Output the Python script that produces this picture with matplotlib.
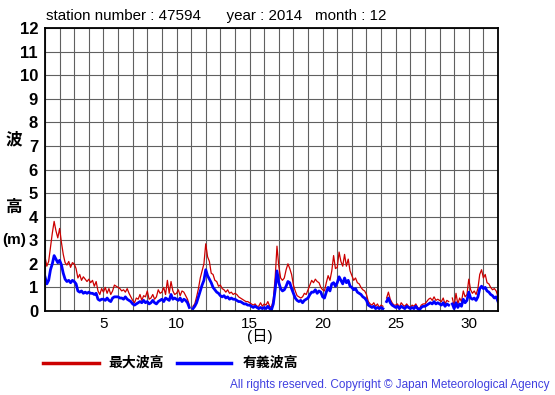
import numpy as np
import matplotlib
matplotlib.use('Agg')
import matplotlib.pyplot as plt

plt.rcParams['font.family'] = ['Liberation Sans', 'Noto Sans CJK JP', 'DejaVu Sans']

nan = np.nan
# 3-hourly values, day 1.0 .. 32.0
max_wave = [
    2.3, 1.9, 2.1, 2.7, 3.3, 3.8, 3.4, 3.1,
    3.5, 2.9, 2.4, 2.05, 1.95, 2.1, 1.85, 2.05,
    2.0, 1.8, 1.4, 1.55, 1.3, 1.45, 1.35, 1.25,
    1.35, 1.2, 1.3, 1.05, 1.25, 0.85, 0.7, 0.95,
    0.8, 1.0, 0.75, 0.95, 0.7, 0.85, 1.1, 1.05,
    1.0, 0.95, 0.85, 0.9, 0.8, 0.95, 0.75, 0.6,
    0.45, 0.35, 0.55, 0.5, 0.7, 0.45, 0.65, 0.6,
    0.85, 0.5, 0.55, 0.7, 0.5, 0.6, 0.9, 0.75,
    0.8, 1.0, 0.7, 1.3, 0.75, 1.25, 0.85, 0.7,
    0.75, 0.9, 0.65, 0.85, 0.8, 0.65, 0.5, 0.25,
    nan, 0.2, 0.3, 0.6, 0.95, 1.4, 1.7, 2.0,
    2.85, 2.3, 2.1, 1.6, 1.55, 1.3, 1.25, 1.05,
    1.1, 0.95, 0.9, 0.8, 0.9, 0.75, 0.8, 0.7,
    0.75, 0.7, 0.6, 0.55, 0.5, 0.45, 0.4, 0.4,
    0.35, 0.3, 0.25, 0.3, 0.2, 0.2, 0.35, 0.2,
    0.3, 0.25, 0.4, 0.2, 0.15, 0.5, 1.4, 2.75,
    1.9, 1.4, 1.3, 1.4, 1.75, 2.0, 1.8, 1.55,
    1.1, 0.85, 0.65, 0.6, 0.55, 0.6, 0.75, 0.7,
    0.9, 1.1, 1.3, 1.2, 1.35, 1.25, 1.2, 1.0,
    0.9, 0.85, 1.2, 1.5, 1.3, 1.7, 2.35, 1.8,
    1.85, 2.5, 2.1, 1.9, 2.4, 1.9, 2.2, 1.7,
    1.5, 1.3, 1.4, 1.2, 1.15, 1.0, 0.9, 0.85,
    0.7, 0.4, 0.3, 0.25, 0.35, 0.2, 0.3, 0.15,
    0.25, 0.2, nan, 0.55, 0.8, 0.5, 0.35, 0.25,
    0.25, 0.3, 0.15, 0.35, 0.25, 0.2, 0.3, 0.2,
    0.15, 0.25, 0.2, 0.3, 0.15, 0.1, 0.25, 0.3,
    0.3, 0.4, 0.5, 0.55, 0.45, 0.6, 0.45, 0.5,
    0.45, 0.4, 0.55, 0.3, 0.45, 0.4, nan, 0.55,
    0.2, 0.75, 0.3, 0.55, 0.4, 0.85, 0.6, 0.7,
    1.35, 0.9, 0.75, 0.85, 0.7, 0.95, 1.55, 1.75,
    1.4, 1.55, 1.2, 1.15, 1.0, 0.9, 0.95, 0.85,
    0.6,
]
sig_wave = [
    1.45, 1.15, 1.3, 1.75, 2.0, 2.35, 2.2, 2.05,
    2.15, 1.95, 1.6, 1.35, 1.25, 1.3, 1.2, 1.3,
    1.25, 1.15, 0.85, 0.8, 0.85, 0.75, 0.8, 0.75,
    0.8, 0.75, 0.75, 0.7, 0.75, 0.5, 0.45, 0.5,
    0.5, 0.45, 0.55, 0.45, 0.4, 0.55, 0.6, 0.6,
    0.6, 0.55, 0.55, 0.5, 0.6, 0.5, 0.45, 0.4,
    0.3, 0.25, 0.3, 0.35, 0.4, 0.35, 0.45, 0.35,
    0.4, 0.3, 0.35, 0.45, 0.35, 0.3, 0.4, 0.45,
    0.5, 0.4, 0.55, 0.5, 0.45, 0.7, 0.5, 0.55,
    0.5, 0.45, 0.55, 0.4, 0.5, 0.45, 0.35, 0.15,
    nan, 0.1, 0.2, 0.35, 0.6, 0.85, 1.1, 1.3,
    1.75, 1.5, 1.35, 1.2, 1.0, 0.9, 0.8, 0.75,
    0.65, 0.6, 0.65, 0.55, 0.6, 0.5, 0.55, 0.5,
    0.5, 0.45, 0.4, 0.4, 0.35, 0.3, 0.3, 0.25,
    0.25, 0.2, 0.15, 0.2, 0.15, 0.1, 0.15, 0.1,
    0.15, 0.1, 0.2, 0.1, 0.05, 0.3, 0.9, 1.7,
    1.2, 0.95, 0.85, 0.9, 1.05, 1.25, 1.2, 0.95,
    0.75, 0.55, 0.45, 0.4, 0.45, 0.35, 0.45, 0.5,
    0.55, 0.7, 0.8, 0.8, 0.9, 0.75, 0.85, 0.8,
    0.6, 0.55, 0.8, 1.0, 0.85, 1.15, 1.2, 1.05,
    1.2, 1.45, 1.3, 1.15, 1.4, 1.2, 1.3, 1.05,
    1.0, 0.9, 0.95, 0.8, 0.75, 0.7, 0.6, 0.55,
    0.45, 0.25, 0.2, 0.15, 0.2, 0.1, 0.15, 0.1,
    0.15, 0.1, nan, 0.4, 0.55, 0.35, 0.25, 0.2,
    0.15, 0.2, 0.1, 0.2, 0.15, 0.1, 0.2, 0.15,
    0.1, 0.15, 0.1, 0.2, 0.1, 0.05, 0.15, 0.2,
    0.2, 0.25, 0.3, 0.35, 0.3, 0.4, 0.3, 0.35,
    0.3, 0.25, 0.35, 0.2, 0.3, 0.25, nan, 0.3,
    0.1, 0.35, 0.15, 0.3, 0.2, 0.5, 0.35, 0.45,
    0.8, 0.55, 0.5, 0.55, 0.45, 0.6, 0.95, 1.05,
    0.95, 1.0, 0.85, 0.8, 0.7, 0.65, 0.55, 0.6,
    0.4,
]
days = 1 + np.arange(len(max_wave)) / 8.0
xticks = [5, 10, 15, 20, 25, 30]

fig = plt.figure(figsize=(5.55, 3.95), dpi=100)
ax = fig.add_axes([45/555, 84/395, 453/555, 283/395])

ax.plot(days, max_wave, color='#cc0000', lw=0.9)
ax.plot(days, sig_wave, color='#0000ff', lw=2.0)

ax.set_xlim(1, 32)
ax.set_ylim(0, 12)
ax.set_xticks(range(1, 33), minor=True)
ax.set_xticks(xticks)
ax.set_yticks(range(0, 13))
ax.grid(True, which='both', color='#606060', lw=0.8)
ax.tick_params(length=0, which='both')
ax.tick_params(axis='y', labelsize=12, pad=5)
ax.tick_params(axis='x', labelsize=11, pad=4)
for lab in ax.get_yticklabels():
    lab.set_fontweight('bold')
for s in ax.spines.values():
    s.set_linewidth(1.3)

fig.text(46/555, 1 - 16/395, 'station number : 47594      year : 2014   month : 12',
         fontsize=10.9, va='center', ha='left')
fig.text(14/555, 1 - 140/395, '波', fontsize=12, fontweight='bold', ha='center', va='center')
fig.text(14/555, 1 - 207/395, '高', fontsize=12, fontweight='bold', ha='center', va='center')
fig.text(14/555, 1 - 240/395, '(m)', fontsize=11, fontweight='bold', ha='center', va='center')
fig.text(260/555, 1 - 337/395, '(日)', fontsize=11, ha='center', va='center')

fig.lines.append(plt.Line2D([43/555, 99/555], [1 - 363/395] * 2, color='#cc0000', lw=2.5,
                            transform=fig.transFigure))
fig.text(108/555, 1 - 363/395, '最大波高', fontsize=10, fontweight='bold', va='center')
fig.lines.append(plt.Line2D([177/555, 231/555], [1 - 363/395] * 2, color='#0000ff', lw=2.5,
                            transform=fig.transFigure))
fig.text(243/555, 1 - 363/395, '有義波高', fontsize=10, fontweight='bold', va='center')
fig.text(550/555, 1 - 385/395, 'All rights reserved. Copyright © Japan Meteorological Agency',
         fontsize=8.5, color='#4040e0', ha='right', va='center')

fig.savefig('out.png', dpi=100)
